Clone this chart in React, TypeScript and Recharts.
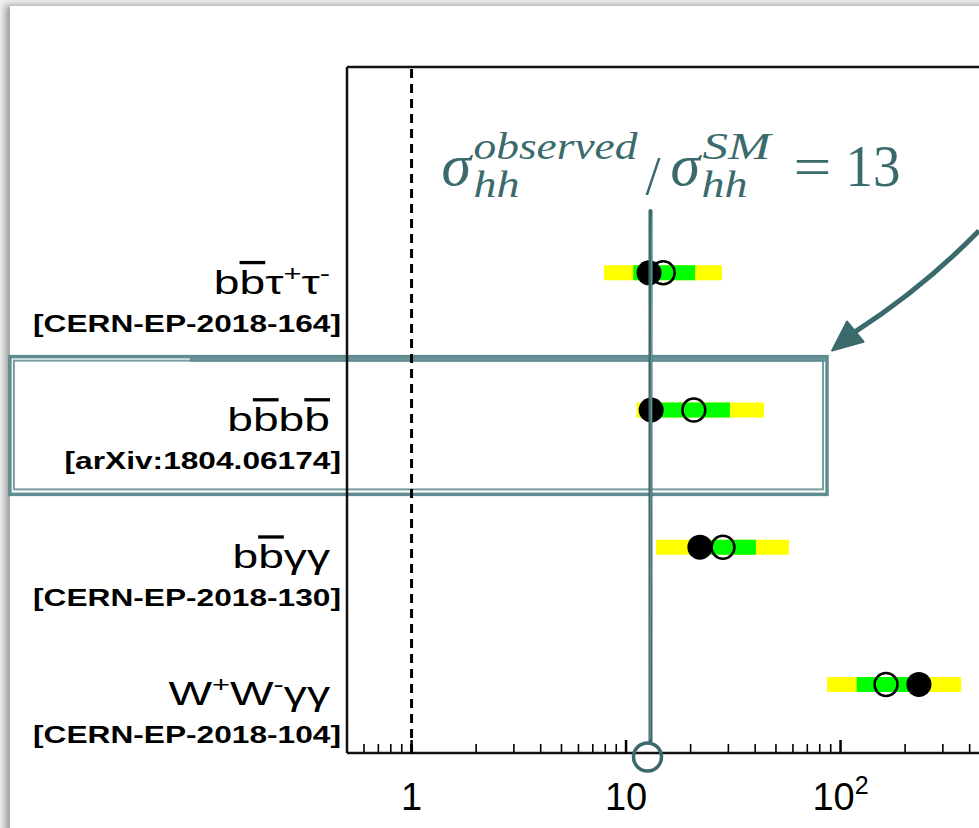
import {
  ComposedChart,
  Scatter,
  ErrorBar,
  XAxis,
  YAxis,
  ReferenceLine,
  ReferenceArea,
} from 'recharts';

// channels, top to bottom
const processes = [
  'bb\u0305\u03c4\u207a\u03c4\u207b',
  'bb\u0305bb\u0305',
  'bb\u0305\u03b3\u03b3',
  'W\u207aW\u207b\u03b3\u03b3',
];
const references = ['[CERN-EP-2018-164]', '[arXiv:1804.06174]', '[CERN-EP-2018-130]', '[CERN-EP-2018-104]'];
const rowPos = [3.5, 2.5, 1.5, 0.5];

// sigma(hh) limit / sigma(hh) SM
const observed = [12.8, 13.1, 22.1, 232];
const expected = [14.9, 20.7, 28.3, 163];
const band1Low = [10.8, 14.0, 19.9, 119];
const band1High = [21.0, 30.5, 40.3, 222];
const band2Low = [7.9, 11.2, 13.8, 86.5];
const band2High = [28.0, 44.0, 57.5, 365];

const combinedRatio = 13;

const majorTicks = [1, 10, 100];
const minorTicks = [0.6, 0.7, 0.8, 0.9, 2, 3, 4, 5, 6, 7, 8, 9, 20, 30, 40, 50, 60, 70, 80, 90, 200, 300, 400, 500, 600, 700, 800, 900];
const xDomain = [0.5, 1000];
const yDomain = [0, 5];

// annotation anchors (data units)
const lineTop = 3.95;
const boxX = [0.0134, 86.5];
const boxY = [1.885, 2.889];
const arrowFrom = { x: 442, y: 3.806 };
const arrowTo = { x: 91.3, y: 2.933 };

const TEAL = '#3b6a6d';
const BOX_TEAL = '#5f8c91';

const bandRows = processes.map((p, i) => ({
  name: p,
  x: expected[i],
  y: rowPos[i],
  err1: [expected[i] - band1Low[i], band1High[i] - expected[i]],
  err2: [expected[i] - band2Low[i], band2High[i] - expected[i]],
}));
const obsRows = processes.map((_, i) => ({ x: observed[i], y: rowPos[i] }));
const expRows = processes.map((_, i) => ({ x: expected[i], y: rowPos[i] }));

const EmptyShape = () => <g />;

const splitLabel = (s: string) => {
  const parts: { t: string; sup?: boolean; over?: boolean }[] = [];
  for (const ch of s) {
    if (ch === '\u0305') {
      parts[parts.length - 1].over = true;
      continue;
    }
    if (ch === '\u207a') { parts.push({ t: '+', sup: true }); continue; }
    if (ch === '\u207b') { parts.push({ t: '-', sup: true }); continue; }
    parts.push({ t: ch });
  }
  return parts;
};

const YTick = ({ x, y, payload }: any) => {
  const i = rowPos.indexOf(payload.value);
  if (i < 0) return null;
  let shift = 0;
  const parts = splitLabel(processes[i]);
  return (
    <g fontFamily="Liberation Sans, Arial, sans-serif" fill="#000">
      <g transform={`translate(${x - 17},${y + 21}) scale(1.4,1)`}>
        <text x={0} y={0} textAnchor="end" fontSize={33}>
          {parts.map((p, k) => {
            const target = p.sup ? -13 : 0;
            const dy = target - shift;
            shift = target;
            return (
              <tspan
                key={k}
                dy={dy}
                fontSize={p.sup ? 22 : 33}
                style={{ textDecoration: p.over ? 'overline' : 'none' }}
              >
                {p.t}
              </tspan>
            );
          })}
        </text>
      </g>
      <g transform={`translate(${x - 6},${y + 59}) scale(1.32,1)`}>
        <text x={0} y={0} textAnchor="end" fontSize={24} fontWeight="bold">
          {references[i]}
        </text>
      </g>
    </g>
  );
};

const XTick = ({ x, y, payload }: any) => {
  const v = payload.value;
  const major = majorTicks.includes(v);
  const e = Math.round(Math.log10(v));
  return (
    <g>
      <line x1={x} x2={x} y1={y} y2={y - (major ? 13 : 9)} stroke="#000" strokeWidth={major ? 2.5 : 1.6} />
      {major && (
        <text x={x} y={y + 57} textAnchor="middle" fontSize={38} fontFamily="Liberation Sans, Arial, sans-serif" fill="#000">
          {e <= 1 ? String(v) : (
            <>
              10<tspan dy={-16} fontSize={25}>{e}</tspan>
            </>
          )}
        </text>
      )}
    </g>
  );
};

const RatioLine = (props: any) => {
  const { x1, y1, x2, y2 } = props;
  const tx = x2;
  const ty = Math.min(y1, y2);
  const by = Math.max(y1, y2);
  const serif = 'Liberation Serif, DejaVu Serif, serif';
  return (
    <g>
      <line x1={tx} x2={tx} y1={ty} y2={by - 12} stroke={TEAL} strokeWidth={4} strokeLinecap="round" />
      <line x1={tx + 1.5} x2={tx - 0.5} y1={ty + 6} y2={by - 14} stroke="#7fa3a5" strokeWidth={1.2} opacity={0.8} />
      <circle cx={tx - 3} cy={by + 4} r={14} fill="none" stroke={TEAL} strokeWidth={3.5} />
      <g fill={TEAL} fontFamily={serif}>
        <text x={tx - 209} y={ty - 26} fontSize={60} fontStyle="italic">σ</text>
        <text x={tx - 177} y={ty - 52} fontSize={38} fontStyle="italic" textLength={164} lengthAdjust="spacingAndGlyphs">observed</text>
        <text x={tx - 177} y={ty - 14} fontSize={38} fontStyle="italic" textLength={46} lengthAdjust="spacingAndGlyphs">hh</text>
        <text x={tx - 5} y={ty - 17} fontSize={54}>/</text>
        <text x={tx + 20} y={ty - 26} fontSize={60} fontStyle="italic">σ</text>
        <text x={tx + 52} y={ty - 52} fontSize={38} fontStyle="italic" textLength={68} lengthAdjust="spacingAndGlyphs">SM</text>
        <text x={tx + 51} y={ty - 14} fontSize={38} fontStyle="italic" textLength={46} lengthAdjust="spacingAndGlyphs">hh</text>
        <text x={tx + 143} y={ty - 25} fontSize={58} textLength={38} lengthAdjust="spacingAndGlyphs">=</text>
        <text x={tx + 195} y={ty - 25} fontSize={60} textLength={55} lengthAdjust="spacingAndGlyphs">{combinedRatio}</text>
      </g>
    </g>
  );
};

const SketchBox = (props: any) => {
  const { x, y, width, height } = props;
  return (
    <g fill="none" stroke={BOX_TEAL}>
      <rect x={x} y={y} width={width} height={height} strokeWidth={3.5} />
      <rect x={x + 4} y={y + 4} width={width - 8} height={height - 9} strokeWidth={2} opacity={0.85} />
      <line x1={x + 180} x2={x + width} y1={y + 2} y2={y + 2} strokeWidth={6} opacity={0.9} />
    </g>
  );
};

const ArrowShape = (props: any) => {
  const { x1, y1, x2, y2 } = props;
  const dx = x1 - x2;
  const dy = y1 - y2;
  const len = Math.hypot(dx, dy);
  const ux = dx / len;
  const uy = dy / len;
  const head = 30;
  const half = 13;
  const bx = x2 + ux * head;
  const by = y2 + uy * head;
  const px = -uy;
  const py = ux;
  const mx = (x1 + bx) / 2 + px * 9;
  const my = (y1 + by) / 2 + py * 9;
  return (
    <g>
      <path d={`M${x1},${y1} Q${mx},${my} ${bx},${by}`} fill="none" stroke={TEAL} strokeWidth={5} />
      <polygon
        points={`${x2},${y2} ${bx + px * half},${by + py * half} ${bx - px * half},${by - py * half}`}
        fill={TEAL}
        stroke={TEAL}
        strokeWidth={2}
        strokeLinejoin="round"
      />
    </g>
  );
};

const BlackDot = (p: any) => <circle cx={p.cx} cy={p.cy} r={12.5} fill="#000" />;
const OpenDot = (p: any) => <circle cx={p.cx} cy={p.cy} r={11.5} fill="none" stroke="#000" strokeWidth={2.5} />;

export default function App() {
  return (
    <div style={{ position: 'absolute', left: 0, top: 0, width: 979, height: 828, overflow: 'hidden', background: '#f2f2f2' }}>
      <div
        style={{
          position: 'absolute',
          left: 10,
          top: 6,
          width: 1100,
          height: 900,
          background: '#fff',
          boxShadow: '-5px -1px 7px rgba(0,0,0,0.35)',
        }}
      />
      <div style={{ position: 'absolute', left: 0, top: 0 }}>
        <ComposedChart width={1100} height={828} margin={{ top: 67, right: 45, bottom: 0, left: 0 }}>
          <XAxis
            type="number"
            dataKey="x"
            scale="log"
            domain={xDomain}
            allowDataOverflow
            ticks={[...minorTicks, ...majorTicks].sort((a, b) => a - b)}
            interval={0}
            tick={<XTick />}
            tickLine={false}
            tickSize={0}
            tickMargin={0}
            height={75}
            axisLine={{ stroke: '#111', strokeWidth: 2.5 }}
          />
          <YAxis
            type="number"
            dataKey="y"
            domain={yDomain}
            ticks={rowPos}
            interval={0}
            width={347}
            tick={<YTick />}
            tickLine={false}
            tickSize={0}
            tickMargin={0}
            axisLine={{ stroke: '#111', strokeWidth: 2.5 }}
          />
          <ReferenceLine y={yDomain[1]} stroke="#111" strokeWidth={2.5} ifOverflow="visible" />
          <ReferenceLine x={1} stroke="#000" strokeWidth={3} strokeDasharray="9 6" />
          <Scatter data={bandRows} shape={EmptyShape} isAnimationActive={false}>
            <ErrorBar dataKey="err2" direction="x" width={0} stroke="#ffff00" strokeWidth={15} isAnimationActive={false} />
          </Scatter>
          <Scatter data={bandRows} shape={EmptyShape} isAnimationActive={false}>
            <ErrorBar dataKey="err1" direction="x" width={0} stroke="#00ff00" strokeWidth={15} isAnimationActive={false} />
          </Scatter>
          <Scatter data={obsRows} shape={BlackDot} isAnimationActive={false} />
          <Scatter data={expRows} shape={OpenDot} isAnimationActive={false} />
          <ReferenceArea x1={boxX[0]} x2={boxX[1]} y1={boxY[0]} y2={boxY[1]} ifOverflow="visible" shape={SketchBox} />
          <ReferenceLine
            segment={[{ x: combinedRatio, y: 0 }, { x: combinedRatio, y: lineTop }]}
            ifOverflow="visible"
            shape={RatioLine}
            zIndex={900}
          />
          <ReferenceLine
            segment={[arrowFrom, arrowTo]}
            ifOverflow="visible"
            shape={ArrowShape}
            zIndex={900}
          />
        </ComposedChart>
      </div>
    </div>
  );
}
